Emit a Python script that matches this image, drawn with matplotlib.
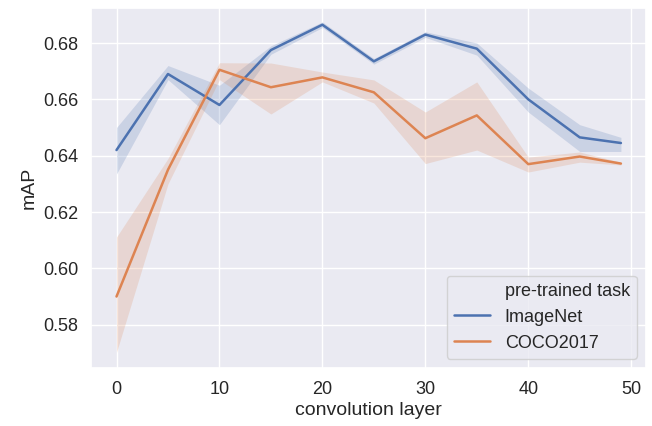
import numpy as np
import matplotlib
matplotlib.use("Agg")
import matplotlib.pyplot as plt
import seaborn as sns
from matplotlib.lines import Line2D

# layer index on the x axis
layers = [0, 5, 10, 15, 20, 25, 30, 35, 40, 45, 49]

# ImageNet pre-trained: mean mAP and confidence band
imagenet_mean = [0.642, 0.669, 0.658, 0.6775, 0.6865, 0.6735, 0.683, 0.678, 0.660, 0.6465, 0.6445]
imagenet_low = [0.6335, 0.667, 0.651, 0.676, 0.6855, 0.6725, 0.682, 0.6757, 0.6555, 0.6415, 0.6415]
imagenet_high = [0.650, 0.672, 0.665, 0.679, 0.6875, 0.6745, 0.684, 0.680, 0.664, 0.651, 0.6465]

# COCO2017 pre-trained
coco_mean = [0.590, 0.635, 0.6705, 0.6643, 0.6678, 0.6625, 0.6462, 0.6543, 0.637, 0.6397, 0.6372]
coco_low = [0.5702, 0.630, 0.667, 0.6548, 0.6662, 0.6587, 0.6372, 0.642, 0.6342, 0.6377, 0.6367]
coco_high = [0.6111, 0.639, 0.673, 0.6729, 0.6697, 0.6669, 0.6555, 0.6662, 0.6395, 0.6413, 0.6377]

labels = ["ImageNet", "COCO2017"]

sns.set_theme(style="darkgrid")
plt.rcParams['font.family'] = ['Liberation Sans', 'DejaVu Sans']

fig, ax = plt.subplots(figsize=(6.52, 4.26), dpi=100)
pal = sns.color_palette()

series = [(imagenet_mean, imagenet_low, imagenet_high), (coco_mean, coco_low, coco_high)]
for i, (m, lo, hi) in enumerate(series):
    ax.plot(layers, m, color=pal[i], lw=1.8)
    ax.fill_between(layers, lo, hi, color=pal[i], alpha=0.2, lw=0)

ax.set_xlabel("convolution layer", fontsize=14, labelpad=3)
ax.set_ylabel("mAP", fontsize=14)
ax.tick_params(labelsize=13)
ax.set_xticks([0, 10, 20, 30, 40, 50])
ax.set_ylim(0.5646, 0.6924)

handles = [Line2D([], [], color="none")] + [Line2D([], [], color=pal[i], lw=1.8) for i in range(2)]
ax.legend(handles, ["pre-trained task"] + labels, loc="lower right", fontsize=13)

fig.subplots_adjust(left=0.14, right=0.991, top=0.981, bottom=0.136)
fig.savefig("out.png", dpi=100)
